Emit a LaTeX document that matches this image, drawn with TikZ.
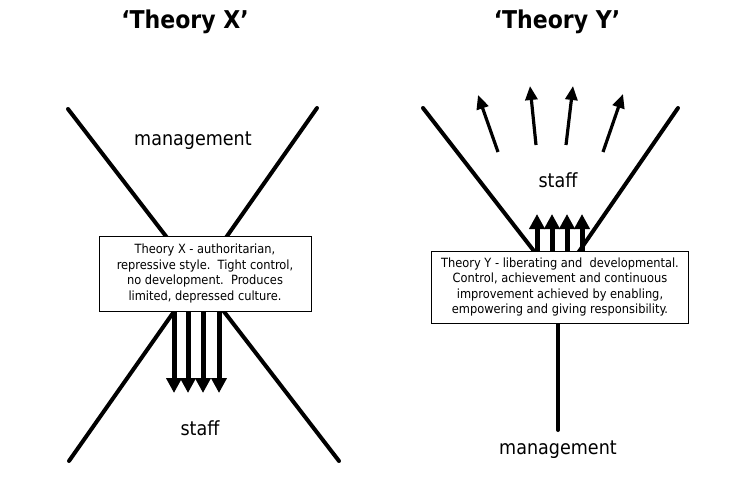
\documentclass[tikz,border=0pt]{standalone}
\usepackage{fontspec}
\setmainfont{DejaVu Sans Condensed}
\usetikzlibrary{arrows.meta}

\begin{document}
\begin{tikzpicture}[x=1pt,y=-1pt,
  leg/.style={line width=4pt,line cap=round},
  note/.style={draw,line width=1pt,fill=white,align=center,inner sep=0pt,font=\fontsize{12.7}{15.6}\selectfont},
  heading/.style={font=\fontsize{24.5}{28}\selectfont\bfseries},
  plain/.style={font=\fontsize{19.5}{22}\selectfont},
  pusharrow/.style={-{Triangle[length=15pt,width=15pt]},line width=5pt},
  fanarrow/.style={-{Triangle[length=14pt,width=12pt]},line width=3.2pt}
]
\useasboundingbox (0,0) rectangle (735,484);

% Theory X
\node[heading] (xtitle) at (185,22) {‘Theory X’};
\coordinate (xtl) at (68,109);
\coordinate (xtr) at (317,108);
\coordinate (xbl) at (69,461);
\coordinate (xbr) at (339,461);
\draw[leg] (xtl) -- (xbr);
\draw[leg] (xtr) -- (xbl);
\node[plain] (xmgmt) at (193,141) {management};
\node[note,minimum width=212pt,minimum height=75pt] (xnote) at (205,273.5)
  {Theory X - authoritarian,\\repressive style.\ \ Tight control,\\no development.\ \ Produces\\limited, depressed culture.};
\foreach \x [count=\i] in {174,188,203,219}{
  \coordinate (xa\i) at (\x,393);
  \draw[pusharrow] (xa\i |- xnote.south) -- (xa\i);
}
\node[plain] (xstaff) at (200,428) {staff};

% Theory Y
\node[heading] (ytitle) at (557,22) {‘Theory Y’};
\coordinate (ytl) at (423,108);
\coordinate (ytr) at (678,108);
\coordinate (yjoin) at (558,282);
\coordinate (yfoot) at (558,430);
\draw[leg] (ytl) -- (yjoin) -- (ytr);
\draw[leg] (yjoin) -- (yfoot);
\node[note,minimum width=257pt,minimum height=72pt] (ynote) at (560,287)
  {Theory Y - liberating and\ \ developmental.\\Control, achievement and continuous\\improvement achieved by enabling,\\empowering and giving responsibility.};
\foreach \x [count=\i] in {537,552,567,582}{
  \coordinate (ya\i) at (\x,214);
  \draw[pusharrow] (ya\i |- ynote.north) -- (ya\i);
}
\node[plain] (ystaff) at (558,180) {staff};
\node[plain] (ymgmt) at (558,450) {management};

% staff growing outwards
\coordinate (f1a) at (498,152); \coordinate (f1b) at (478,95);
\coordinate (f2a) at (536,145); \coordinate (f2b) at (530,86);
\coordinate (f3a) at (566,145); \coordinate (f3b) at (573,86);
\coordinate (f4a) at (603,152); \coordinate (f4b) at (623,94);
\foreach \i in {1,...,4}
  \draw[fanarrow] (f\i a) -- (f\i b);
\end{tikzpicture}
\end{document}
